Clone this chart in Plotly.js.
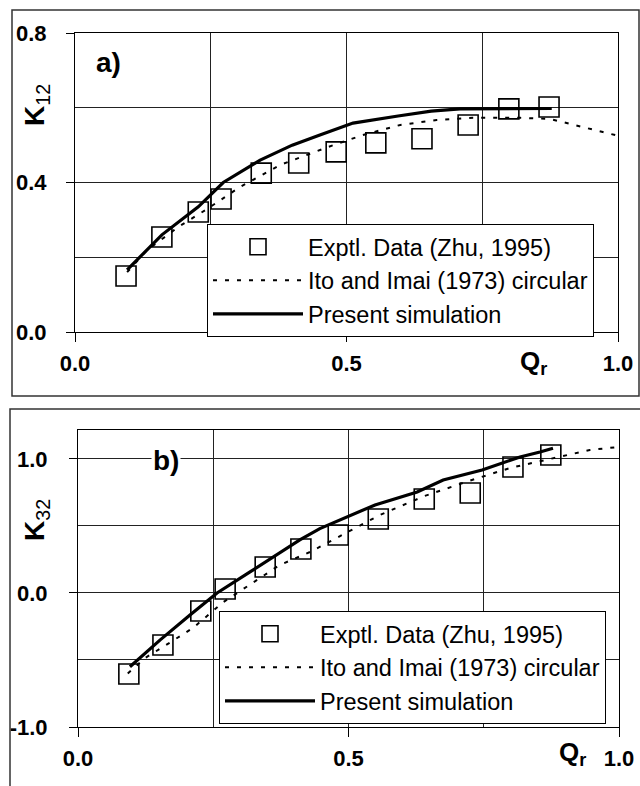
<!DOCTYPE html>
<html>
<head>
<meta charset="utf-8">
<script src="https://cdn.plot.ly/plotly-3.0.1.min.js"></script>
<style>html,body{margin:0;padding:0;background:#fff;}#chart{width:640px;height:786px;}</style>
</head>
<body>
<div id="chart"></div>
<script>
// ---- Panel a) K12 vs Qr ----
const qExpA  = [0.094, 0.160, 0.227, 0.269, 0.343, 0.412, 0.481, 0.554, 0.639, 0.724, 0.799, 0.873];
const k12Exp = [0.150, 0.254, 0.321, 0.356, 0.425, 0.452, 0.482, 0.506, 0.517, 0.554, 0.597, 0.602];
const qSimA  = [0.096, 0.160, 0.227, 0.273, 0.341, 0.400, 0.451, 0.512, 0.595, 0.656, 0.709, 0.800, 0.878];
const k12Sim = [0.166, 0.260, 0.335, 0.400, 0.460, 0.500, 0.527, 0.559, 0.578, 0.591, 0.597, 0.598, 0.598];
const qItoA  = [0.096, 0.131, 0.190, 0.240, 0.304, 0.378, 0.466, 0.530, 0.599, 0.666, 0.733, 0.820, 0.875, 0.917, 0.972, 1.000];
const k12Ito = [0.160, 0.217, 0.281, 0.326, 0.388, 0.447, 0.495, 0.527, 0.554, 0.567, 0.573, 0.573, 0.570, 0.554, 0.535, 0.525];

// ---- Panel b) K32 vs Qr ----
const qExpB  = [0.094, 0.157, 0.227, 0.272, 0.346, 0.412, 0.481, 0.555, 0.640, 0.725, 0.804, 0.874];
const k32Exp = [-0.604, -0.388, -0.134, 0.030, 0.194, 0.328, 0.433, 0.552, 0.701, 0.746, 0.940, 1.030];
const qSimB  = [0.096, 0.152, 0.207, 0.257, 0.318, 0.368, 0.410, 0.447, 0.549, 0.627, 0.675, 0.747, 0.817, 0.854, 0.878];
const k32Sim = [-0.550, -0.350, -0.164, 0.000, 0.157, 0.284, 0.396, 0.480, 0.657, 0.754, 0.843, 0.918, 1.015, 1.052, 1.080];
const qItoB  = [0.092, 0.124, 0.170, 0.213, 0.268, 0.324, 0.373, 0.429, 0.488, 0.558, 0.641, 0.728, 0.799, 0.878, 0.946, 1.000];
const k32Ito = [-0.600, -0.485, -0.370, -0.260, -0.070, 0.078, 0.209, 0.306, 0.433, 0.582, 0.724, 0.843, 0.933, 1.007, 1.067, 1.090];

const names = ["Exptl. Data (Zhu, 1995)", "Ito and Imai (1973) circular", "Present simulation"];
const xTicks = [0.0, 0.5, 1.0];
const xTickText = ["0.0", "0.5", "1.0"];
const yTicksA = [0.0, 0.4, 0.8];
const yTickTextA = ["0.0", "0.4", "0.8"];
const yTicksB = [-1.0, 0.0, 1.0];
const yTickTextB = ["-1.0", "0.0", "1.0"];

const W = 640, H = 786;
const px = v => v / W;
const py = v => 1 - v / H;

const FONT = "Liberation Sans, Arial, Helvetica, sans-serif";
const sqMarker = {symbol: "square-open", size: 20, color: "#000", line: {width: 1.6, color: "#000"}};
const dotLine = {color: "#000", width: 2, dash: "4px,8px"};
const solidLine = {color: "#000", width: 3.2};

const traces = [
  {x: qExpA, y: k12Exp, mode: "markers", name: names[0], marker: sqMarker, xaxis: "x", yaxis: "y", legend: "legend"},
  {x: qItoA, y: k12Ito, mode: "lines", name: names[1], line: dotLine, xaxis: "x", yaxis: "y", legend: "legend"},
  {x: qSimA, y: k12Sim, mode: "lines", name: names[2], line: solidLine, xaxis: "x", yaxis: "y", legend: "legend"},
  {x: qExpB, y: k32Exp, mode: "markers", name: names[0], marker: sqMarker, xaxis: "x2", yaxis: "y2", legend: "legend2"},
  {x: qItoB, y: k32Ito, mode: "lines", name: names[1], line: dotLine, xaxis: "x2", yaxis: "y2", legend: "legend2"},
  {x: qSimB, y: k32Sim, mode: "lines", name: names[2], line: solidLine, xaxis: "x2", yaxis: "y2", legend: "legend2"}
];

const gridC = "#222";
function xAxis(domain, anchor) {
  return {
    domain: domain, anchor: anchor, range: [0, 1],
    tickmode: "array", tickvals: xTicks, ticktext: xTickText,
    ticks: "outside", ticklen: 9, tickwidth: 1, tickcolor: "#000",
    ticklabelstandoff: 3,
    showline: true, linecolor: "#000", linewidth: 1, mirror: true,
    showgrid: true, gridcolor: gridC, gridwidth: 1,
    minor: {tickmode: "array", tickvals: [0.25, 0.75], showgrid: true, gridcolor: gridC, gridwidth: 1, ticks: ""},
    zeroline: false,
    tickfont: {family: FONT, size: 22, color: "#000", weight: "bold"},
    fixedrange: true
  };
}
function yAxis(domain, anchor, range, tv, tt, minorVals, standoff) {
  return {
    domain: domain, anchor: anchor, range: range,
    tickmode: "array", tickvals: tv, ticktext: tt,
    ticks: "outside", ticklen: 8, tickwidth: 1, tickcolor: "#000",
    ticklabelstandoff: standoff,
    showline: true, linecolor: "#000", linewidth: 1, mirror: true,
    showgrid: true, gridcolor: gridC, gridwidth: 1,
    minor: {tickmode: "array", tickvals: minorVals, showgrid: true, gridcolor: gridC, gridwidth: 1, ticks: ""},
    zeroline: false,
    tickfont: {family: FONT, size: 22, color: "#000", weight: "bold"},
    fixedrange: true
  };
}

const legendCommon = {
  xanchor: "left", yanchor: "top", bgcolor: "#fff", bordercolor: "#000", borderwidth: 1,
  font: {family: FONT, size: 23.5, color: "#000"}, itemwidth: 90, traceorder: "normal",
  tracegroupgap: 0
};

function ann(text, x, y, size, extra) {
  return Object.assign({text: text, xref: "paper", yref: "paper", x: px(x), y: py(y),
    xanchor: "center", yanchor: "middle", showarrow: false,
    font: {family: FONT, size: size, color: "#000"}}, extra || {});
}

const layout = {
  width: W, height: H,
  margin: {l: 0, r: 0, t: 0, b: 0},
  paper_bgcolor: "#fff", plot_bgcolor: "#fff",
  showlegend: true,
  xaxis: xAxis([px(75), px(618)], "y"),
  yaxis: yAxis([py(332), py(33)], "x", [0, 0.8], yTicksA, yTickTextA, [0.2, 0.6], 15),
  xaxis2: xAxis([px(78), px(619)], "y2"),
  yaxis2: yAxis([py(727), py(430)], "x2", [-1.0, 1.216], yTicksB, yTickTextB, [-0.5, 0.5], 17),
  legend: Object.assign({x: px(207), y: py(224)}, legendCommon),
  legend2: Object.assign({x: px(219), y: py(611)}, legendCommon),
  shapes: [
    {type: "rect", xref: "paper", yref: "paper", x0: px(12), x1: px(639), y0: py(396), y1: py(10), line: {color: "#333", width: 1.5}},
    {type: "rect", xref: "paper", yref: "paper", x0: px(10), x1: px(641), y0: py(787), y1: py(409), line: {color: "#333", width: 1.5}}
  ],
  annotations: [
    ann("<b>a)</b>", 108, 63, 28),
    ann("<b>b)</b>", 166, 460, 28, {bgcolor: "#fff"}),
    ann("<b>K</b><sub>12</sub>", 36, 105, 28, {textangle: -90}),
    ann("<b>K</b><sub>32</sub>", 36, 520, 28, {textangle: -90}),
    ann("<b>Q</b><sub><b>r</b></sub>", 533, 362, 26),
    ann("<b>Q</b><sub><b>r</b></sub>", 572, 753, 26)
  ]
};

Plotly.newPlot("chart", traces, layout, {displayModeBar: false, staticPlot: true});
</script>
</body>
</html>
